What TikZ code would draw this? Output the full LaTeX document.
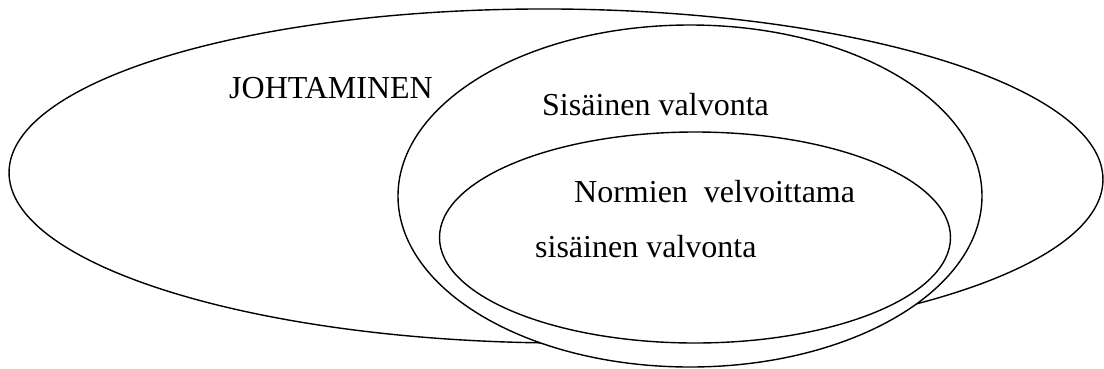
\documentclass[tikz,border=0pt]{standalone}
\usepackage{fontspec}
\setmainfont{Liberation Serif}
\usetikzlibrary{shapes.geometric}
\tikzset{
  ring/.style={ellipse, draw=black, line width=1.4pt, inner sep=0pt, fill=white},
  label/.style={anchor=base west, inner sep=0pt, font=\fontsize{32}{38}\selectfont}
}
\begin{document}
\begin{tikzpicture}[x=1pt, y=-1pt]
  \useasboundingbox (0,0) rectangle (1104,368);
  % nested areas: management > internal control > mandated internal control
  \node[ring, minimum width=1094pt, minimum height=334pt, rotate=-0.4] (outer) at (556,176) {};
  \node[ring, minimum width=584pt, minimum height=342pt] (middle) at (690,196) {};
  \node[ring, minimum width=511pt, minimum height=211pt] (inner) at (695,237.5) {};
  % labels
  \node[label] (lead) at (229,98) {JOHTAMINEN};
  \node[label] (ctrl) at (542,115) {Sisäinen valvonta};
  \node[label] (norm1) at (574,202) {Normien\ \ velvoittama};
  \node[label] (norm2) at (535,257) {sisäinen valvonta};
\end{tikzpicture}
\end{document}
